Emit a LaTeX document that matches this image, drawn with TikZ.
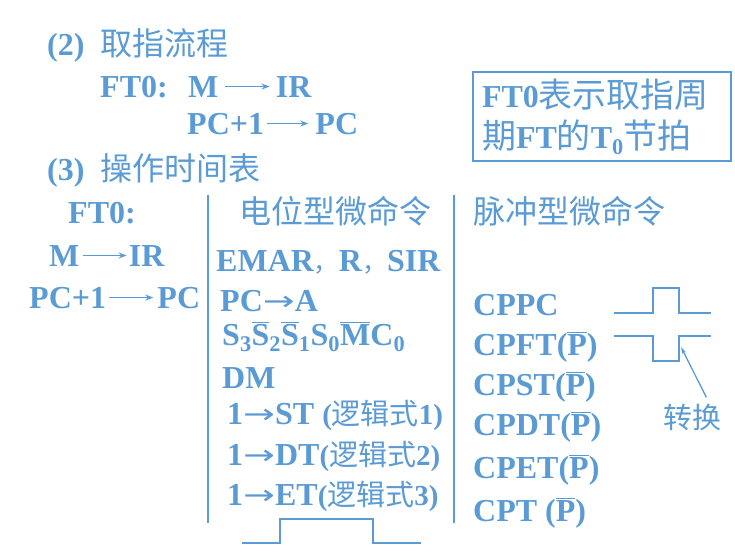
\documentclass[tikz,border=0pt]{standalone}
\usepackage{fontspec}
\setmainfont{Liberation Serif}
\newfontfamily\cjk{Noto Sans CJK SC}
\newfontfamily\symf{DejaVu Sans}
\usetikzlibrary{arrows.meta,positioning}
\definecolor{slide}{RGB}{91,155,213}
\newcommand\zh[1]{{\cjk\mdseries #1}}
\newcommand\ovl[1]{$\overline{\hbox{#1}}$}
\newcommand\ra{{\symf\mdseries\raisebox{1pt}{\scalebox{1.19}[0.85]{→}}}}
\newcommand\cm{{\fontsize{25}{25}\selectfont\zh{，}}}
\newcommand\logic[1]{{\fontsize{29}{29}\selectfont(\zh{逻辑式}#1)}}

\begin{document}
\begin{tikzpicture}[x=1pt,y=-1pt,
    txt/.style = {anchor=base west, inner sep=0pt, text=slide,
                  font=\fontsize{32}{41}\selectfont\bfseries},
    tr/.style = {draw=slide, line width=1.6pt, shorten <=3pt, shorten >=4pt,
                 -{Stealth[length=8pt,width=6pt]}},
    wave/.style = {draw=slide, line width=2pt},
    note/.style = {txt, anchor=center, draw=slide, line width=1.2pt, align=left,
                   text width=240pt, inner xsep=9pt, minimum height=89pt}]
\useasboundingbox (0,0) rectangle (735,554);

% (2) fetch
\node[txt] (head2) at (47,55) {(2)~~\zh{取指流程}};
\node[txt] (ft0a) at (100,97) {FT0:};
\node[txt] (ma) at (188,97) {M};
\node[txt, base right=57pt of ma] (ira) {IR};
\node[txt] (pc1a) at (187,134) {PC+1};
\node[txt, base right=51pt of pc1a] (pca) {PC};
\draw[tr, shorten <=6pt, shorten >=6pt] (ma) -- (ira);
\draw[tr, shorten >=7pt] (pc1a) -- (pca);

\node[note] (ftnote) at (602,116.5)
    {FT0{\fontsize{34}{41}\selectfont\zh{表示取指周}}\\
     {\fontsize{34}{41}\selectfont\zh{期}}FT{\fontsize{34}{41}\selectfont\zh{的}}T\textsubscript{0}{\fontsize{34}{41}\selectfont\zh{节拍}}};

% (3) timing table
\node[txt] (head3) at (47,180) {(3)~~\zh{操作时间表}};
\node[txt] (ft0b) at (68,223) {FT0:};
\node[txt] (mb) at (49,266) {M};
\node[txt, base right=49pt of mb] (irb) {IR};
\node[txt] (pc1b) at (29,308) {PC+1};
\node[txt, base right=51pt of pc1b] (pcb) {PC};
\draw[tr, shorten >=2pt] (mb) -- (irb);
\draw[tr] (pc1b) -- (pcb);

\draw[wave] (208,195) -- (208,523);
\draw[wave] (454,195) -- (454,523);

\node[txt] (levhead) at (239,223) {\zh{电位型微命令}};
\node[txt] (emar) at (216,271) {EMAR\cm R\cm SIR};
\node[txt] (pctoa) at (220,311) {PC\ra A};
\node[txt] (sel) at (222,345)
    {S\textsubscript{3}\ovl{S}\textsubscript{2}\ovl{S}\textsubscript{1}S\textsubscript{0}\ovl{M}C\textsubscript{0}};
\node[txt] (dm) at (222,388) {DM};
\node[txt] (st) at (227,424) {1\ra ST \logic{1}};
\node[txt] (dt) at (227,465) {1\ra DT\logic{2}};
\node[txt] (et) at (227,505) {1\ra ET\logic{3}};
\draw[wave] (242,543) -| (280,519) -| (373,543) -- (421,543);

\node[txt] (pulhead) at (473,223) {\zh{脉冲型微命令}};
\node[txt] (cppc) at (473,315) {CPPC};
\node[txt] (cpft) at (473,355) {CPFT(\ovl{P})};
\node[txt] (cpst) at (473,395) {CPST(\ovl{P})};
\node[txt] (cpdt) at (473,435) {CPDT(\ovl{P})};
\node[txt] (cpet) at (473,478) {CPET(\ovl{P})};
\node[txt] (cpt) at (473,521) {CPT (\ovl{P})};

\draw[wave] (614,313) -| (653,288) -| (679,313) -- (711,313);
\draw[wave] (614,336) -| (653,361) -| (679,336) -- (711,336);
\node[txt, font=\fontsize{29}{29}\selectfont] (zhuan) at (663,428) {\zh{转换}};
\coordinate (edge) at (681,347);
\draw[tr, line width=1.3pt, shorten <=0pt, shorten >=0pt, -{Stealth[length=7pt,width=4pt]}]
    (zhuan.north east) ++(-15,-6) -- (edge);
\end{tikzpicture}
\end{document}
